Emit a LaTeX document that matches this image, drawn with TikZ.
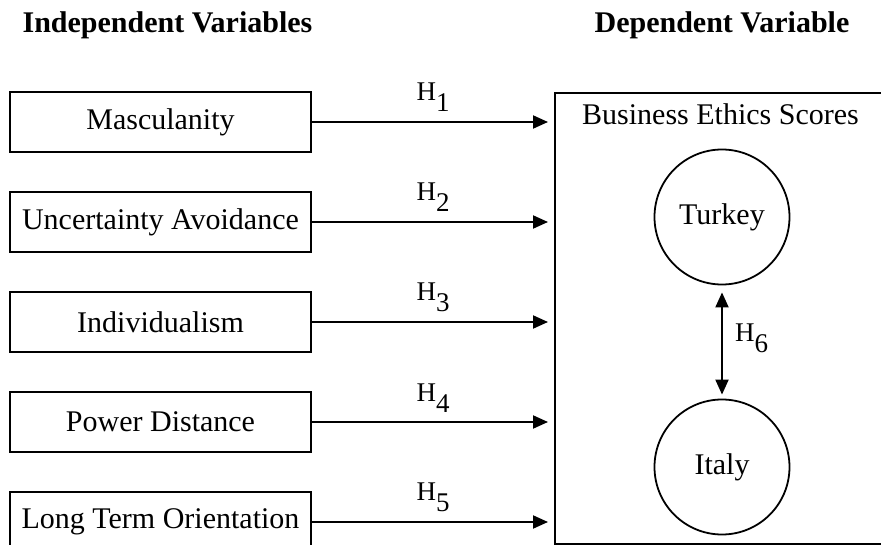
\documentclass[tikz,border=0pt]{standalone}
\usepackage{fontspec}
\setmainfont{Liberation Serif}
\usetikzlibrary{positioning, arrows.meta}

\newcommand{\Hn}[1]{H\raisebox{-11pt}{#1}}

\tikzset{
	head/.style={font=\bfseries\fontsize{30}{36}\selectfont, inner sep=0pt, anchor=base},
	var/.style={draw, line width=2pt, minimum width=301pt, minimum height=60pt, inner sep=2pt, font=\fontsize{30}{36}\selectfont},
	country/.style={draw, circle, line width=1.8pt, minimum size=135pt, inner sep=0pt, font=\fontsize{30}{36}\selectfont},
	hyp/.style={line width=2pt, -{Triangle[length=15pt, width=13pt]}, shorten >=6pt},
	hlab/.style={font=\fontsize{27}{32}\selectfont, inner sep=0pt}
}

\begin{document}
\begin{tikzpicture}[x=1pt, y=-1pt]
		\useasboundingbox (0,0) rectangle (881,545);

		\node[head] (indep) at (167.5,33) {Independent Variables};
		\node[head] (dep) at (722,33) {Dependent Variable};

		\node[var] (masc) at (160.5,122) {Masculanity};
		\node[var, below=38pt of masc] (unc) {Uncertainty Avoidance};
		\node[var, below=38pt of unc] (ind) {Individualism};
		\node[var, below=38pt of ind] (pow) {Power Distance};
		\node[var, below=38pt of pow] (lto) {Long Term Orientation};

		\node[draw, line width=2.4pt, anchor=north west, minimum width=335pt, minimum height=451pt, inner sep=0pt] (scores) at (554,92) {};
		\node[font=\fontsize{30}{36}\selectfont, inner sep=0pt, anchor=base] (title) at (720.5,125) {Business Ethics Scores};

		\node[country] (turkey) at (722,217) {Turkey};
		\node[country] (italy) at (722,467) {Italy};

		\draw
		(masc.east) edge[hyp] node[hlab, midway, above=9pt] {\Hn{1}} (masc.east -| scores.west)
		(unc.east) edge[hyp] node[hlab, midway, above=9pt] {\Hn{2}} (unc.east -| scores.west)
		(ind.east) edge[hyp] node[hlab, midway, above=9pt] {\Hn{3}} (ind.east -| scores.west)
		(pow.east) edge[hyp] node[hlab, midway, above=9pt] {\Hn{4}} (pow.east -| scores.west)
		(lto.east) edge[hyp] node[hlab, midway, above=9pt] {\Hn{5}} (lto.east -| scores.west);

		\draw[line width=2pt, {Triangle[length=15pt, width=13pt]}-{Triangle[length=15pt, width=13pt]}, shorten <=7pt, shorten >=4pt]
		(turkey.south) -- node[hlab, right=12pt, yshift=4pt] {\Hn{6}} (italy.north);
\end{tikzpicture}
\end{document}
